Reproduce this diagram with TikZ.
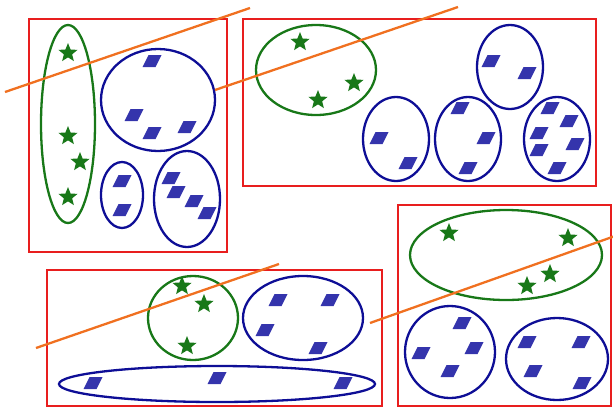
\documentclass[tikz,border=0pt]{standalone}
\usetikzlibrary{shapes.geometric}
\definecolor{boxred}{RGB}{232,30,30}
\definecolor{setgreen}{RGB}{24,120,24}
\definecolor{setblue}{RGB}{14,14,150}
\definecolor{tileblue}{RGB}{52,52,172}
\definecolor{cutorange}{RGB}{240,112,32}
\tikzset{
  part/.style={draw=boxred, line width=2.3pt},
  gset/.style={draw=setgreen, line width=2.3pt},
  bset/.style={draw=setblue, line width=2.3pt},
  cut/.style={draw=cutorange, line width=2.3pt},
  starpt/.style={star, star points=5, star point ratio=2.3, fill=setgreen,
    inner sep=0pt, minimum size=20pt},
  tile/.pic={\fill[tileblue] (-9.5,6) -- (3.5,6) -- (9.5,-6) -- (-3.5,-6) -- cycle;}
}
\begin{document}
\begin{tikzpicture}[x=1pt, y=-1pt]
    \useasboundingbox (0,0) rectangle (613,408);
    % four partitions
    \draw[part] (29,19) rectangle (227,252);
    \draw[part] (243,19) rectangle (596,186);
    \draw[part] (47,270) rectangle (382,406);
    \draw[part] (398,205) rectangle (611,406);
    % first partition
    \draw[gset] (68,124) ellipse [x radius=27, y radius=99];
    \node[starpt] (a1) at (68,53) {};
    \node[starpt] (a2) at (68,136) {};
    \node[starpt] (a3) at (80,162) {};
    \node[starpt] (a4) at (68,197) {};
    \draw[bset] (158,100) ellipse [x radius=57, y radius=51];
    \draw[bset] (122,195) ellipse [x radius=21, y radius=33];
    \draw[bset] (187,199) ellipse [x radius=33, y radius=48];
    \foreach \p in {(152,61),(134,115),(152,133),(187,127),(122,181),(122,210),
                    (171,178),(176,192),(194,201),(207,213)}
        \pic at \p {tile};
    % second partition
    \draw[gset] (316,70) ellipse [x radius=60, y radius=45];
    \node[starpt] (b1) at (300,42) {};
    \node[starpt] (b2) at (354,83) {};
    \node[starpt] (b3) at (318,100) {};
    \draw[bset] (510,67) ellipse [x radius=33, y radius=42];
    \draw[bset] (396,139) ellipse [x radius=33, y radius=42];
    \draw[bset] (468,139) ellipse [x radius=33, y radius=42];
    \draw[bset] (557,139) ellipse [x radius=33, y radius=42];
    \foreach \p in {(491,61),(527,73),(379,138),(408,163),(460,108),(486,138),(468,168),
                    (550,108),(569,121),(539,133),(575,144),(539,150),(557,168)}
        \pic at \p {tile};
    % third partition
    \draw[gset] (193,318) ellipse [x radius=45, y radius=42];
    \node[starpt] (c1) at (182,286) {};
    \node[starpt] (c2) at (204,304) {};
    \node[starpt] (c3) at (187,346) {};
    \draw[bset] (303,318) ellipse [x radius=60, y radius=42];
    \draw[bset] (217,384) ellipse [x radius=158, y radius=18];
    \foreach \p in {(278,300),(330,300),(265,330),(318,348),(93,383),(217,378),(343,383)}
        \pic at \p {tile};
    % fourth partition
    \draw[gset] (506,255) ellipse [x radius=96, y radius=45];
    \node[starpt] (d1) at (449,233) {};
    \node[starpt] (d2) at (568,238) {};
    \node[starpt] (d3) at (550,274) {};
    \node[starpt] (d4) at (527,286) {};
    \draw[bset] (450,352) ellipse [x radius=45, y radius=46];
    \draw[bset] (557,359) ellipse [x radius=51, y radius=41];
    \foreach \p in {(462,323),(474,348),(421,353),(450,371),(527,342),(581,342),(533,371),(582,383)}
        \pic at \p {tile};
    % cutting lines
    \draw[cut] (5,92) -- (250,8);
    \draw[cut] (215,90) -- (458,7);
    \draw[cut] (36,348) -- (279,264);
    \draw[cut] (370,323) -- (615,236);
\end{tikzpicture}
\end{document}
